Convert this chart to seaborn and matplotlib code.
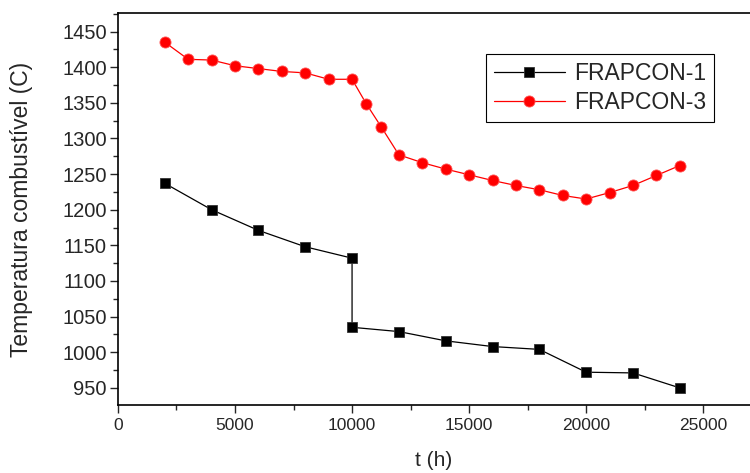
import pandas as pd
import seaborn as sns
import matplotlib.pyplot as plt
from matplotlib.ticker import MultipleLocator

# FRAPCON-1 (black squares)
t_f1 = [2000, 4000, 6000, 8000, 10000, 10000, 12000, 14000, 16000, 18000, 20000, 22000, 24000]
temp_f1 = [1237, 1200, 1171, 1148, 1132, 1035, 1029, 1016, 1008, 1004, 972, 971, 950]

# FRAPCON-3 (red circles)
t_f3 = [2000, 3000, 4000, 5000, 6000, 7000, 8000, 9000, 10000, 10600, 11250,
        12000, 13000, 14000, 15000, 16000, 17000, 18000, 19000, 20000, 21000,
        22000, 23000, 24000]
temp_f3 = [1435, 1411, 1410, 1402, 1398, 1394, 1392, 1383, 1383, 1349, 1316,
           1277, 1266, 1257, 1249, 1241, 1234, 1228, 1220, 1215, 1224,
           1234, 1248, 1262]

df1 = pd.DataFrame({'t': t_f1, 'temp': temp_f1})
df3 = pd.DataFrame({'t': t_f3, 'temp': temp_f3})

sns.set_style('ticks')
plt.rcParams['font.family'] = ['Liberation Sans', 'DejaVu Sans']

fig = plt.figure(figsize=(7.5, 4.73), dpi=100)
ax = fig.add_axes([0.1573, 0.1438, 0.8427, 0.8287])

sns.lineplot(data=df1, x='t', y='temp', ax=ax, estimator=None, sort=False,
             color='black', linewidth=0.9, marker='s', markersize=7.5,
             markeredgecolor='#333333', markeredgewidth=0.6, label='FRAPCON-1')
sns.lineplot(data=df3, x='t', y='temp', ax=ax, estimator=None, sort=False,
             color='red', linewidth=0.9, marker='o', markersize=8,
             markeredgecolor='#ff5555', markeredgewidth=0.6, label='FRAPCON-3')

ax.set_xlim(0, 27000)
ax.set_ylim(926, 1476)
ax.xaxis.set_major_locator(MultipleLocator(5000))
ax.xaxis.set_minor_locator(MultipleLocator(2500))
ax.yaxis.set_major_locator(MultipleLocator(50))
ax.yaxis.set_minor_locator(MultipleLocator(25))
ax.set_yticks(range(950, 1451, 50))
ax.tick_params(which='major', length=6, width=1, direction='out')
ax.tick_params(which='minor', length=3.5, width=1, direction='out')
ax.tick_params(axis='x', labelsize=12.5)
ax.tick_params(axis='y', labelsize=14.5, pad=2)

for s in ['left', 'bottom', 'top']:
    ax.spines[s].set_color('black')
    ax.spines[s].set_linewidth(1.2)
ax.spines['right'].set_visible(False)

ax.set_xlabel('t (h)', fontsize=15, labelpad=13)
ax.set_ylabel('Temperatura combustível (C)', fontsize=16.5, labelpad=21)

leg = ax.legend(loc='upper left', bbox_to_anchor=(0.582, 0.895), fontsize=16.5,
                frameon=True, fancybox=False, edgecolor='black', framealpha=1,
                handlelength=3.1, borderpad=0.35, labelspacing=0.25,
                handletextpad=0.4, borderaxespad=0)
leg.get_frame().set_linewidth(0.8)

fig.savefig('out.png', dpi=100)
